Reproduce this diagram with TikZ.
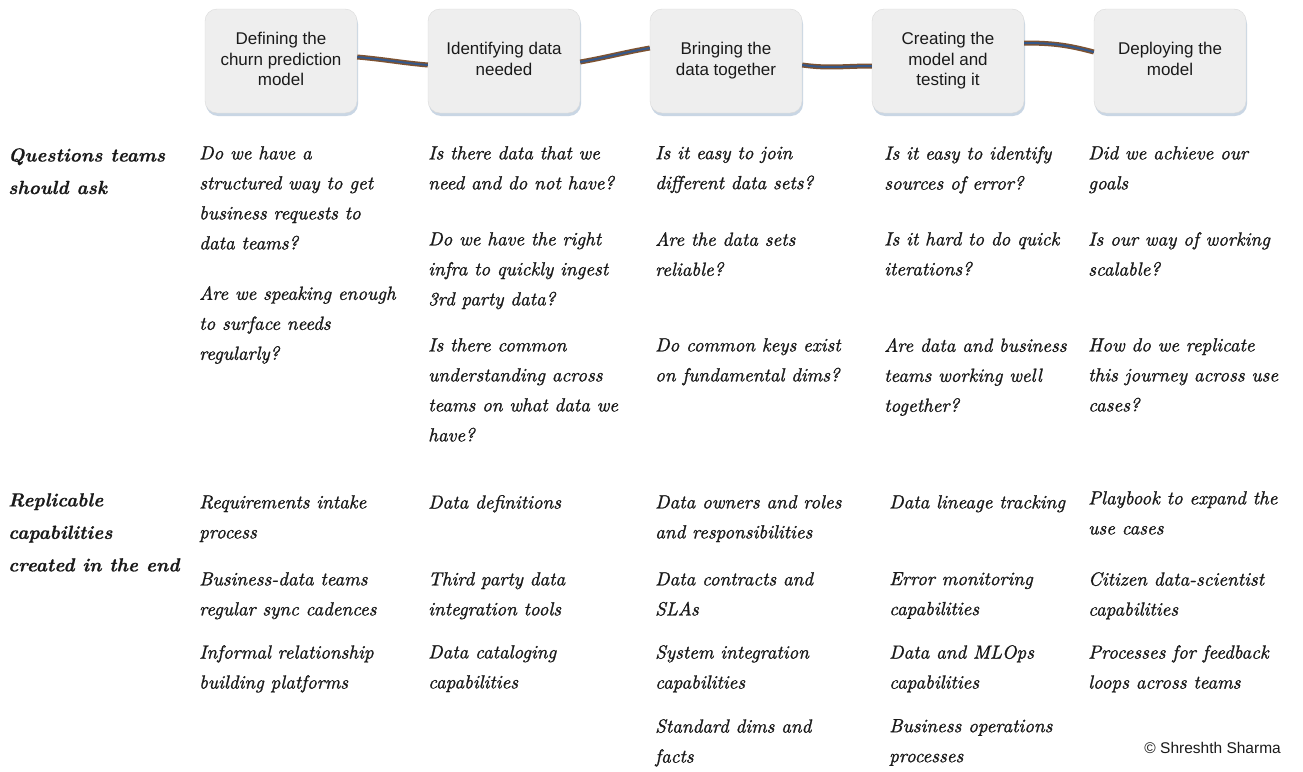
\documentclass[tikz,border=0pt]{standalone}
\usepackage{fontspec}
\usepackage{tikz}
\usetikzlibrary{shadows}
\newfontfamily\boxfont{Liberation Sans}
\newfontfamily\handfont[FakeBold=1.2]{lmroman10-italic.otf}
\newfontfamily\handheadfont[FakeBold=0.6]{lmroman10-bolditalic.otf}
\definecolor{boxgray}{HTML}{EEEEEE}
\definecolor{boxline}{HTML}{DADADA}
\definecolor{shadowblue}{HTML}{C9D6E4}
\definecolor{linkbrown}{HTML}{7E5230}
\definecolor{linkblue}{HTML}{35588A}
\definecolor{ink}{HTML}{1A1A1A}
\tikzset{
    stage/.style={
           rectangle,
           rounded corners=12pt,
           draw=boxline, fill=boxgray,
           minimum width=152pt,
           minimum height=104pt,
           inner sep=2pt,
           text centered,
           text=ink,
           font=\boxfont\fontsize{17}{20.5}\selectfont,
           drop shadow={shadow xshift=1pt, shadow yshift=-3pt, fill=shadowblue, opacity=1}
           },
    stagelink/.style={
           line width=5pt, draw=linkbrown,
           postaction={draw=linkblue, line width=2pt}
           },
    ask/.style={
           anchor=north west,
           align=left,
           inner sep=0pt,
           text=ink,
           font=\handfont\fontsize{19}{30}\selectfont
           },
    rowhead/.style={ask, font=\handheadfont\fontsize{19}{32.5}\selectfont},
}
\begin{document}
\begin{tikzpicture}[x=1pt,y=-1pt]
            \useasboundingbox[fill=white] (0,0) rectangle (1303,771);

             % the five stages
             \node[stage] (DEFINE) at (281,61)
             {\begin{tabular}{c}
              Defining the\\
              churn prediction\\
              model
              \end{tabular}};

             \node[stage,
              right of=DEFINE,
              node distance=223pt,
              anchor=center] (IDENTIFY)
             {%
             \begin{tabular}{c}
              Identifying data\\
              needed
             \end{tabular}
             };

             \node[stage,
              right of=IDENTIFY,
              node distance=222pt,
              anchor=center] (BRING)
             {%
             \begin{tabular}{c}
              Bringing the\\
              data together
             \end{tabular}
             };

             \node[stage,
              right of=BRING,
              node distance=222pt,
              anchor=center] (CREATE)
             {%
             \begin{tabular}{c}
              Creating the\\
              model and\\
              testing it
             \end{tabular}
             };

             \node[stage,
              right of=CREATE,
              node distance=222pt,
              anchor=center] (DEPLOY)
             {%
             \begin{tabular}{c}
              Deploying the\\
              model
             \end{tabular}
             };

             \path
             ([yshift=4pt]DEFINE.east)    edge[stagelink, out=-5, in=175]  ([yshift=-4pt]IDENTIFY.west)
             ([yshift=-1pt]IDENTIFY.east) edge[stagelink, out=10, in=190]  ([yshift=13pt]BRING.west)
             ([yshift=-4pt]BRING.east)    edge[stagelink, out=-8, in=180]  ([yshift=-5pt]CREATE.west)
             ([yshift=18pt]CREATE.east)   edge[stagelink, out=0, in=165]   ([yshift=9pt]DEPLOY.west)
             ;

             % questions teams should ask
             \node[rowhead] (QHEAD) at (8,148) {Questions teams\\should ask};

             \node[ask] (Q11) at (199,146) {Do we have a\\structured way to get\\business requests to\\data teams?};
             \node[ask] (Q12) at (199,286) {Are we speaking enough\\to surface needs\\regularly?};

             \node[ask] (Q21) at (428,146) {Is there data that we\\need and do not have?};
             \node[ask] (Q22) at (428,232) {Do we have the right\\infra to quickly ingest\\3rd party data?};
             \node[ask] (Q23) at (428,338) {Is there common\\understanding across\\teams on what data we\\have?};

             \node[ask] (Q31) at (655,146) {Is it easy to join\\different data sets?};
             \node[ask] (Q32) at (655,232) {Are the data sets\\reliable?};
             \node[ask] (Q33) at (655,338) {Do common keys exist\\on fundamental dims?};

             \node[ask] (Q41) at (884,146) {Is it easy to identify\\sources of error?};
             \node[ask] (Q42) at (884,232) {Is it hard to do quick\\iterations?};
             \node[ask] (Q43) at (884,338) {Are data and business\\teams working well\\together?};

             \node[ask] (Q51) at (1088,146) {Did we achieve our\\goals};
             \node[ask] (Q52) at (1088,232) {Is our way of working\\scalable?};
             \node[ask] (Q53) at (1088,338) {How do we replicate\\this journey across use\\cases?};

             % replicable capabilities
             \node[rowhead] (CHEAD) at (8,493) {Replicable\\capabilities\\created in the end};

             \node[ask] (C11) at (199,495) {Requirements intake\\process};
             \node[ask] (C12) at (199,572) {Business-data teams\\regular sync cadences};
             \node[ask] (C13) at (199,645) {Informal relationship\\building platforms};

             \node[ask] (C21) at (428,495) {Data definitions};
             \node[ask] (C22) at (428,572) {Third party data\\integration tools};
             \node[ask] (C23) at (428,645) {Data cataloging\\capabilities};

             \node[ask] (C31) at (655,495) {Data owners and roles\\and responsibilities};
             \node[ask] (C32) at (655,572) {Data contracts and\\SLAs};
             \node[ask] (C33) at (655,645) {System integration\\capabilities};
             \node[ask] (C34) at (655,719) {Standard dims and\\facts};

             \node[ask] (C41) at (889,495) {Data lineage tracking};
             \node[ask] (C42) at (889,572) {Error monitoring\\capabilities};
             \node[ask] (C43) at (889,645) {Data and MLOps\\capabilities};
             \node[ask] (C44) at (889,719) {Business operations\\processes};

             \node[ask] (C51) at (1088,491) {Playbook to expand the\\use cases};
             \node[ask] (C52) at (1088,572) {Citizen data-scientist\\capabilities};
             \node[ask] (C53) at (1088,645) {Processes for feedback\\loops across teams};

             \node[anchor=east, inner sep=0pt, text=ink, font=\boxfont\fontsize{15.5}{17}\selectfont] (COPY) at (1281,748) {© Shreshth Sharma};

        \end{tikzpicture}
\end{document}
